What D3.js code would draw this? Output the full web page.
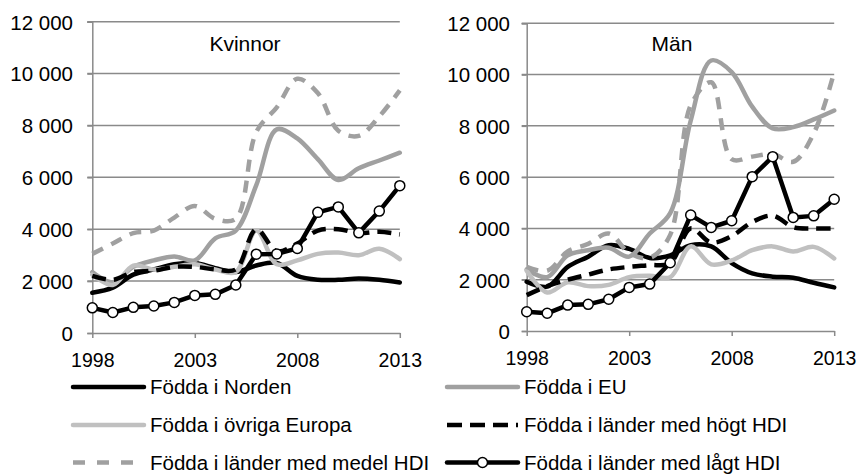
<!DOCTYPE html>
<html><head><meta charset="utf-8">
<script src="https://cdn.jsdelivr.net/npm/d3@7"></script>
<style>body{margin:0;background:#fff}svg{display:block}text{font-family:"Liberation Sans",Arial,sans-serif;fill:#000}</style>
</head><body><svg id="c" width="859" height="476"></svg>
<script>
const years = d3.range(1998, 2014);
const xTicks = [1998, 2003, 2008, 2013];
const yTicks = [0, 2000, 4000, 6000, 8000, 10000, 12000];
const panelTitles = ["Kvinnor", "Män"];
const seriesNames = ["Födda i Norden","Födda i EU","Födda i övriga Europa","Födda i länder med högt HDI","Födda i länder med medel HDI","Födda i länder med lågt HDI"];

// Kvinnor
const kNorden = [1550,1750,2250,2450,2650,2700,2500,2350,2600,2700,2200,2050,2050,2100,2050,1950];
const kEU     = [2350,1950,2550,2800,2950,2800,3650,3950,5700,7850,7500,6700,5900,6350,6650,6950];
const kOvriga = [2250,1850,2600,2450,2550,2650,2450,2350,3950,2650,2800,3050,3100,3000,3250,2850];
const kHogt   = [2200,2050,2350,2400,2550,2550,2450,2450,4000,3150,3450,3950,4000,3850,3900,3800];
const kMedel  = [3050,3450,3850,3950,4450,4900,4400,4400,7750,8700,9800,9250,7800,7600,8350,9350];
const kLagt   = [970,790,990,1040,1180,1450,1490,1850,3040,3050,3260,4650,4860,3860,4700,5680];
// Män
const mNorden = [1920,1730,2500,2900,3350,3200,2850,2950,3350,3300,2650,2250,2120,2080,1880,1700];
const mEU     = [2400,2100,2950,3150,3250,2900,3800,4600,8200,10550,10100,8750,7900,7950,8250,8600];
const mOvriga = [2350,1500,1900,1750,1800,2100,2150,2100,3300,2600,2750,3150,3300,3100,3280,2830];
const mHogt   = [1400,1750,2000,2200,2400,2500,2570,2650,4000,3450,3700,4250,4500,4050,4000,4000];
const mMedel  = [2500,2350,3100,3400,3800,3050,2850,3750,8800,9700,6700,6800,6900,6600,7700,10100];
const mLagt   = [750,690,1010,1040,1240,1700,1830,2660,4520,4040,4300,6020,6800,4430,4490,5140];

const styles = [
  {stroke:"#000", w:4.5, dash:null, smooth:true},
  {stroke:"#a0a0a0", w:4.5, dash:null, smooth:true},
  {stroke:"#c0c0c0", w:4.5, dash:null, smooth:true},
  {stroke:"#000", w:4.5, dash:"14,8", smooth:true},
  {stroke:"#a0a0a0", w:4.5, dash:"12,9", smooth:true},
  {stroke:"#000", w:4.5, dash:null, smooth:false, marker:true}
];

const panels = [
  {title:panelTitles[0], data:[kNorden,kEU,kOvriga,kHogt,kMedel,kLagt], x0:92.3, x1:399.8, y0:333, y1:21.7, labelEnd:73, titleX:245},
  {title:panelTitles[1], data:[mNorden,mEU,mOvriga,mHogt,mMedel,mLagt], x0:526.7, x1:834.2, y0:331, y1:23.3, labelEnd:510, titleX:672}
];

const svg = d3.select("#c");
const loc = d3.formatLocale({decimal:",", thousands:" ", grouping:[3], currency:["",""]});
const fmt = loc.format(",d");
const grid = "#8a8a8a";

panels.forEach(p => {
  const x = d3.scaleLinear().domain([1998, 2013]).range([p.x0, p.x1]);
  const y = d3.scaleLinear().domain([0, 12000]).range([p.y0, p.y1]);
  const g = svg.append("g");
  g.selectAll("line.grid").data(yTicks.filter(t=>t>0)).join("line")
    .attr("x1", p.x0 - 5).attr("x2", p.x1).attr("y1", d=>y(d)).attr("y2", d=>y(d))
    .attr("stroke", grid).attr("stroke-width", 1.5);
  const ya = g.append("g").attr("transform", `translate(${p.x0},0)`)
    .call(d3.axisLeft(y).tickValues(yTicks).tickFormat(fmt).tickSize(5).tickPadding(0));
  ya.select(".domain").attr("stroke", grid).attr("stroke-width", 1.5);
  ya.selectAll(".tick line").attr("stroke", grid).attr("stroke-width", 1.5);
  ya.selectAll(".tick text").attr("x", p.labelEnd - p.x0).attr("font-size", "20.5px")
    .attr("font-family", "Liberation Sans, Arial, sans-serif").attr("fill", "#000").attr("dy", "0.36em");
  const xa = g.append("g").attr("transform", `translate(0,${p.y0})`)
    .call(d3.axisBottom(x).tickValues(xTicks).tickFormat(d3.format("d")).tickSize(5).tickSizeOuter(0).tickPadding(15));
  xa.select(".domain").attr("stroke", grid).attr("stroke-width", 1.5);
  xa.selectAll(".tick line").attr("stroke", grid).attr("stroke-width", 1.5);
  xa.selectAll(".tick text").attr("font-size", "19.5px")
    .attr("font-family", "Liberation Sans, Arial, sans-serif").attr("fill", "#000");
  g.append("text").attr("x", p.titleX).attr("y", 51).attr("text-anchor", "middle")
    .attr("font-size", "21px").text(p.title);
  p.data.forEach((vals, i) => {
    const s = styles[i];
    const pts = years.map((yr, j) => [yr, vals[j]]);
    const line = d3.line().x(d=>x(d[0])).y(d=>y(d[1]))
      .curve(s.smooth ? d3.curveCatmullRom.alpha(0.5) : d3.curveLinear);
    g.append("path").datum(pts).attr("d", line).attr("fill", "none")
      .attr("stroke", s.stroke).attr("stroke-width", s.w)
      .attr("stroke-linejoin", "round").attr("stroke-linecap", s.dash ? "butt" : "round")
      .attr("stroke-dasharray", s.dash);
    if (s.marker) {
      g.selectAll(null).data(pts).join("circle")
        .attr("cx", d=>x(d[0])).attr("cy", d=>y(d[1])).attr("r", 5)
        .attr("fill", "#fff").attr("stroke", "#000").attr("stroke-width", 1.5);
    }
  });
});

const legendPos = [
  {lx0:73, lx1:144, tx:150, y:387},
  {lx0:447, lx1:518, tx:524, y:387},
  {lx0:73, lx1:144, tx:150, y:425},
  {lx0:447, lx1:518, tx:524, y:425},
  {lx0:73, lx1:144, tx:150, y:462.5},
  {lx0:447, lx1:518, tx:524, y:462.5}
];
seriesNames.forEach((name, i) => {
  const s = styles[i], lp = legendPos[i];
  const lg = svg.append("g");
  lg.append("line").attr("x1", lp.lx0).attr("x2", lp.lx1).attr("y1", lp.y).attr("y2", lp.y)
    .attr("stroke", s.stroke).attr("stroke-width", s.w)
    .attr("stroke-dasharray", s.dash ? (i===3 ? "15,8" : "12,12") : null)
    .attr("stroke-linecap", s.dash ? "butt" : "round");
  if (s.marker) {
    lg.append("circle").attr("cx", (lp.lx0+lp.lx1)/2).attr("cy", lp.y).attr("r", 5)
      .attr("fill", "#fff").attr("stroke", "#000").attr("stroke-width", 1.5);
  }
  lg.append("text").attr("x", lp.tx).attr("y", lp.y).attr("dy", "0.36em")
    .attr("font-size", "20.5px").text(name);
});
</script></body></html>
